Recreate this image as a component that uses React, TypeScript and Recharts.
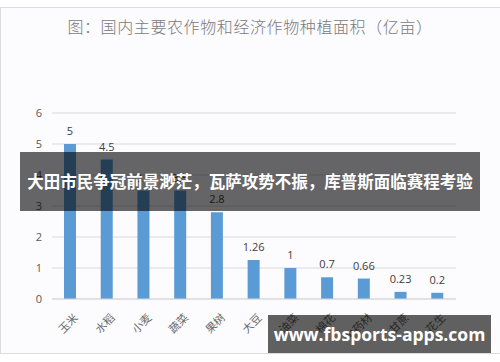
import { BarChart, Bar, XAxis, YAxis, CartesianGrid, LabelList } from 'recharts'

const crops = ['玉米', '水稻', '小麦', '蔬菜', '果树', '大豆', '油菜', '棉花', '中药材', '甘蔗', '花生']
const areas = [5, 4.5, 3.5, 3.5, 2.8, 1.26, 1, 0.7, 0.66, 0.23, 0.2]
const yTicks = [0, 1, 2, 3, 4, 5, 6]

const data = crops.map((name, i) => ({ name, value: areas[i] }))

const cjk = '"Noto Sans CJK SC", "Noto Sans", sans-serif'

function CropTick(props: any) {
  const { x, y, payload } = props
  return (
    <g transform={`translate(${x + 5},${y + 8})`}>
      <text
        transform="rotate(-45)"
        textAnchor="end"
        dominantBaseline="central"
        fill="#6b6b6b"
        fontSize={11}
        fontFamily={cjk}
      >
        {payload.value}
      </text>
    </g>
  )
}

export default function App() {
  return (
    <div style={{ position: 'fixed', left: 0, top: 0, width: 500, height: 362, background: '#fff', overflow: 'hidden' }}>
      <div
        style={{
          position: 'absolute',
          left: 0,
          top: 7,
          width: 520,
          height: 345,
          border: '1px solid #dcdcdc',
          background: '#fcfbfe',
        }}
      />
      <div
        style={{
          position: 'absolute',
          left: 0,
          top: 14,
          width: 500,
          textAlign: 'center',
          fontFamily: cjk,
          fontSize: 16,
          fontWeight: 300,
          color: '#7a7a7a',
          letterSpacing: 0.6,
        }}
      >
        图：国内主要农作物和经济作物种植面积（亿亩）
      </div>
      <div style={{ position: 'absolute', left: 0, top: 0 }}>
        <BarChart width={500} height={362} data={data} margin={{ top: 113, right: 44, left: 0, bottom: 0 }}>
          <CartesianGrid vertical={false} stroke="#d9d9d9" />
          <XAxis
            dataKey="name"
            axisLine={{ stroke: '#d9d9d9' }}
            tickLine={false}
            height={63}
            interval={0}
            tick={<CropTick />}
          />
          <YAxis
            domain={[0, 6]}
            ticks={yTicks}
            width={52}
            axisLine={false}
            tickLine={false}
            tickMargin={4}
            tick={{ fill: '#595959', fontSize: 11, fontFamily: 'Open Sans' }}
          />
          <Bar dataKey="value" fill="#5b9bd5" barSize={12} isAnimationActive={false}>
            <LabelList
              dataKey="value"
              position="top"
              offset={9}
              fill="#404040"
              fontSize={11}
              fontFamily="Open Sans"
            />
          </Bar>
        </BarChart>
      </div>
      <div
        style={{
          position: 'absolute',
          left: 20,
          top: 152,
          width: 460,
          height: 59,
          background: 'rgba(0,0,0,0.6)',
          color: '#fff',
          fontFamily: cjk,
          fontWeight: 700,
          fontSize: 16.5,
          lineHeight: '59px',
          textAlign: 'center',
          whiteSpace: 'nowrap',
        }}
      >
        大田市民争冠前景渺茫，瓦萨攻势不振，库普斯面临赛程考验
      </div>
      <div
        style={{
          position: 'absolute',
          left: 268,
          top: 315,
          width: 223,
          height: 38,
          background: 'rgba(0,0,0,0.62)',
          color: '#fff',
          fontFamily: '"Open Sans", sans-serif',
          fontWeight: 700,
          fontSize: 17.5,
          lineHeight: '38px',
          textAlign: 'center',
          whiteSpace: 'nowrap',
        }}
      >
        www.fbsports-apps.com
      </div>
    </div>
  )
}
